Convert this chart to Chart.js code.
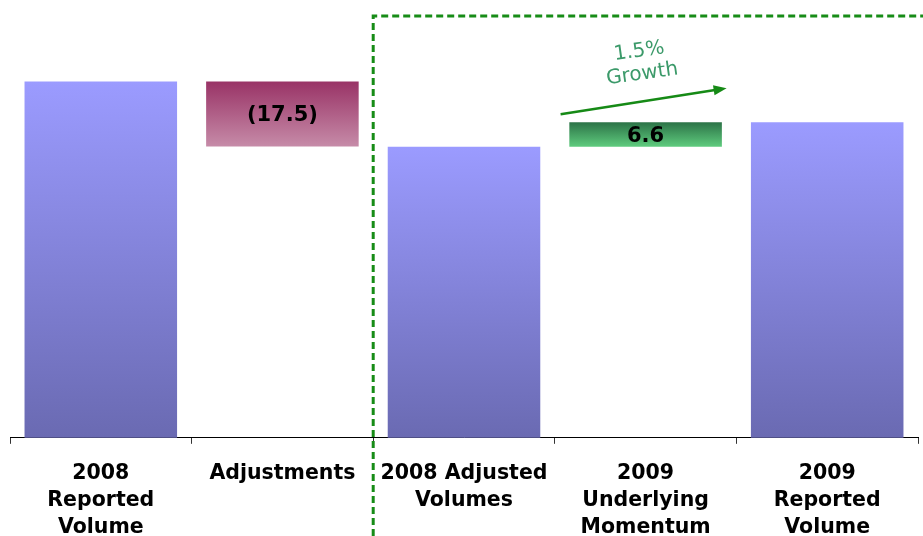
<!DOCTYPE html>
<html>
<head>
<meta charset="utf-8">
<script src="https://cdn.jsdelivr.net/npm/chart.js@4"></script>
<style>
  body { margin: 0; background: #fff; }
  .volumes { width: 923px; height: 536px; position: relative; }
</style>
</head>
<body>
<div class="volumes"><canvas id="grafico"></canvas></div>
<script>
var categorias = [['2008', 'Reported', 'Volume'], 'Adjustments', ['2008 Adjusted', 'Volumes'], ['2009', 'Underlying', 'Momentum'], ['2009', 'Reported', 'Volume']];
var volumes = [445.9, null, 428.3, null, 434.9];
var variacoes = [null, -17.5, null, 6.6, null];
var crescimento = ['1.5%', 'Growth'];

// monta as barras flutuantes da cascata a partir do total anterior
var barras = [];
var anterior = null;
for (var i = 0; i < categorias.length; i++) {
  if (volumes[i] !== null) {
    barras.push(volumes[i]);
    anterior = volumes[i];
  } else {
    var fim = anterior + variacoes[i];
    barras.push([Math.min(anterior, fim), Math.max(anterior, fim)]);
  }
}

function rotulo(i) {
  if (volumes[i] !== null) return volumes[i].toFixed(1);
  var v = variacoes[i];
  return v < 0 ? '(' + Math.abs(v).toFixed(1) + ')' : v.toFixed(1);
}

var cores = {
  total: ['#9b9bff', '#6a6ab2'],
  negativo: ['#993366', '#c68ba8'],
  positivo: ['#2c7347', '#5fcc7e']
};

function corBarra(context) {
  var chart = context.chart;
  var i = context.dataIndex;
  var par = volumes[i] !== null ? cores.total : (variacoes[i] < 0 ? cores.negativo : cores.positivo);
  if (!chart.chartArea || !chart.scales.y) return par[1];
  var y = chart.scales.y;
  var d = barras[i];
  var topo = y.getPixelForValue(Array.isArray(d) ? d[1] : d);
  var base = Array.isArray(d) ? y.getPixelForValue(d[0]) : chart.chartArea.bottom;
  var g = chart.ctx.createLinearGradient(0, topo, 0, base);
  g.addColorStop(0, par[0]);
  g.addColorStop(1, par[1]);
  return g;
}

// valores no meio das barras, caixa tracejada e seta de crescimento
var extras = {
  id: 'extras',
  afterDatasetsDraw: function(chart) {
    var ctx = chart.ctx;
    var meta = chart.getDatasetMeta(0);
    ctx.save();
    ctx.font = 'bold 21px "DejaVu Sans", Verdana, sans-serif';
    ctx.fillStyle = '#000';
    ctx.textAlign = 'center';
    ctx.textBaseline = 'middle';
    meta.data.forEach(function(bar, i) {
      ctx.fillText(rotulo(i), bar.x, (bar.y + bar.base) / 2 + 2);
    });

    var x = chart.scales.x;
    var y = chart.scales.y;
    var divisa = (x.getPixelForValue(1) + x.getPixelForValue(2)) / 2;
    ctx.strokeStyle = '#178c17';
    ctx.lineWidth = 3;
    ctx.setLineDash([7, 4]);
    ctx.beginPath();
    ctx.moveTo(divisa, chart.height);
    ctx.lineTo(divisa, 16);
    ctx.lineTo(chart.width, 16);
    ctx.stroke();
    ctx.setLineDash([]);

    var cx = x.getPixelForValue(3);
    var topo = y.getPixelForValue(volumes[4]);
    var x0 = cx - 85, y0 = topo - 8, x1 = cx + 81, y1 = topo - 34;
    var ang = Math.atan2(y1 - y0, x1 - x0);
    ctx.strokeStyle = '#168a16';
    ctx.fillStyle = '#168a16';
    ctx.lineWidth = 2.5;
    ctx.beginPath();
    ctx.moveTo(x0, y0);
    ctx.lineTo(x1 - 10 * Math.cos(ang), y1 - 10 * Math.sin(ang));
    ctx.stroke();
    ctx.beginPath();
    ctx.moveTo(x1, y1);
    ctx.lineTo(x1 - 13 * Math.cos(ang) + 5 * Math.sin(ang), y1 - 13 * Math.sin(ang) - 5 * Math.cos(ang));
    ctx.lineTo(x1 - 13 * Math.cos(ang) - 5 * Math.sin(ang), y1 - 13 * Math.sin(ang) + 5 * Math.cos(ang));
    ctx.closePath();
    ctx.fill();

    ctx.translate(cx - 5, topo - 60);
    ctx.rotate(-0.14);
    ctx.fillStyle = '#3c9a6a';
    ctx.font = '20px "DejaVu Sans", Verdana, sans-serif';
    ctx.fillText(crescimento[0], 0, -11);
    ctx.fillText(crescimento[1], 0, 12);
    ctx.restore();
  }
};

var ctx = document.getElementById('grafico');
var myChart = new Chart(ctx, {
  type: 'bar',
  data: {
    labels: categorias,
    datasets: [{
      label: 'Volume',
      data: barras,
      backgroundColor: corBarra,
      borderWidth: 0,
      barPercentage: 0.84,
      categoryPercentage: 1
    }]
  },
  options: {
    responsive: true,
    maintainAspectRatio: false,
    animation: false,
    layout: { padding: { left: 10, right: 5, top: 29, bottom: -21 } },
    plugins: {
      legend: { display: false },
      tooltip: { enabled: false }
    },
    scales: {
      x: {
        grid: { offset: true, drawOnChartArea: false, drawTicks: true, tickLength: 6, color: '#333' },
        border: { display: true, color: '#000', width: 1 },
        ticks: {
          color: '#000',
          padding: 16,
          maxRotation: 0,
          autoSkip: false,
          font: { family: '"DejaVu Sans", Verdana, sans-serif', size: 20.5, weight: 'bold', lineHeight: 1.32 }
        }
      },
      y: {
        display: false,
        min: 350,
        max: 460
      }
    }
  },
  plugins: [extras]
});
</script>
</body>
</html>
